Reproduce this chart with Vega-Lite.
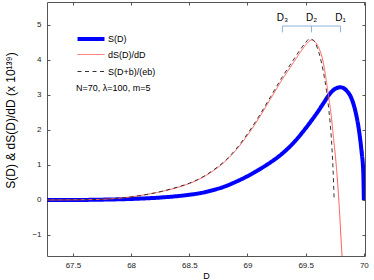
{
  "$schema": "https://vega.github.io/schema/vega-lite/v6.json",
  "width": 318,
  "height": 254,
  "autosize": {"type": "none"},
  "padding": {"left": 47, "top": 2, "right": 9, "bottom": 24},
  "background": "white",
  "config": {
    "view": {"stroke": null},
    "font": "Liberation Sans",
    "axis": {
      "domainColor": "#555555",
      "tickColor": "#555555",
      "tickSize": -3,
      "labelFontSize": 8,
      "labelColor": "#222222",
      "labelFont": "Liberation Sans",
      "titleFont": "Liberation Sans",
      "titleFontWeight": "normal",
      "titleColor": "#000000",
      "grid": false
    },
    "legend": {"orient": "none", "legendX": 35, "legendY": 28, "title": null, "labelFontSize": 9, "labelFont": "Liberation Sans", "symbolType": "M-2,0H2", "symbolSize": 182, "labelOffset": 8, "padding": 0, "rowPadding": -1, "gridAlign": "all"}
  },
  "datasets": {
    "curves": [
      {"series": "S(D)", "D": 67.277, "v": 0.0},
      {"series": "S(D)", "D": 67.5, "v": 0.0},
      {"series": "S(D)", "D": 67.75, "v": 0.01},
      {"series": "S(D)", "D": 68.0, "v": 0.03},
      {"series": "S(D)", "D": 68.25, "v": 0.07},
      {"series": "S(D)", "D": 68.5, "v": 0.15},
      {"series": "S(D)", "D": 68.6, "v": 0.2},
      {"series": "S(D)", "D": 68.7, "v": 0.28},
      {"series": "S(D)", "D": 68.8, "v": 0.38},
      {"series": "S(D)", "D": 68.9, "v": 0.52},
      {"series": "S(D)", "D": 69.0, "v": 0.68},
      {"series": "S(D)", "D": 69.1, "v": 0.87},
      {"series": "S(D)", "D": 69.2, "v": 1.08},
      {"series": "S(D)", "D": 69.3, "v": 1.33},
      {"series": "S(D)", "D": 69.4, "v": 1.65},
      {"series": "S(D)", "D": 69.5, "v": 2.05},
      {"series": "S(D)", "D": 69.55, "v": 2.27},
      {"series": "S(D)", "D": 69.6, "v": 2.5},
      {"series": "S(D)", "D": 69.65, "v": 2.75},
      {"series": "S(D)", "D": 69.7, "v": 3.0},
      {"series": "S(D)", "D": 69.75, "v": 3.17},
      {"series": "S(D)", "D": 69.8, "v": 3.22},
      {"series": "S(D)", "D": 69.85, "v": 3.13},
      {"series": "S(D)", "D": 69.9, "v": 2.85},
      {"series": "S(D)", "D": 69.93, "v": 2.5},
      {"series": "S(D)", "D": 69.96, "v": 1.95},
      {"series": "S(D)", "D": 69.98, "v": 1.4},
      {"series": "S(D)", "D": 69.995, "v": 0.8},
      {"series": "S(D)", "D": 70.0, "v": 0.0},
      {"series": "dS(D)/dD", "D": 67.277, "v": 0.0},
      {"series": "dS(D)/dD", "D": 67.5, "v": 0.005},
      {"series": "dS(D)/dD", "D": 67.75, "v": 0.02},
      {"series": "dS(D)/dD", "D": 68.0, "v": 0.09},
      {"series": "dS(D)/dD", "D": 68.2, "v": 0.2},
      {"series": "dS(D)/dD", "D": 68.4, "v": 0.36},
      {"series": "dS(D)/dD", "D": 68.5, "v": 0.47},
      {"series": "dS(D)/dD", "D": 68.6, "v": 0.62},
      {"series": "dS(D)/dD", "D": 68.7, "v": 0.82},
      {"series": "dS(D)/dD", "D": 68.8, "v": 1.08},
      {"series": "dS(D)/dD", "D": 68.9, "v": 1.42},
      {"series": "dS(D)/dD", "D": 69.0, "v": 1.85},
      {"series": "dS(D)/dD", "D": 69.1, "v": 2.35},
      {"series": "dS(D)/dD", "D": 69.2, "v": 2.9},
      {"series": "dS(D)/dD", "D": 69.3, "v": 3.45},
      {"series": "dS(D)/dD", "D": 69.4, "v": 3.95},
      {"series": "dS(D)/dD", "D": 69.45, "v": 4.2},
      {"series": "dS(D)/dD", "D": 69.5, "v": 4.43},
      {"series": "dS(D)/dD", "D": 69.53, "v": 4.54},
      {"series": "dS(D)/dD", "D": 69.55, "v": 4.57},
      {"series": "dS(D)/dD", "D": 69.57, "v": 4.55},
      {"series": "dS(D)/dD", "D": 69.6, "v": 4.43},
      {"series": "dS(D)/dD", "D": 69.63, "v": 4.2},
      {"series": "dS(D)/dD", "D": 69.65, "v": 3.95},
      {"series": "dS(D)/dD", "D": 69.68, "v": 3.35},
      {"series": "dS(D)/dD", "D": 69.7, "v": 2.9},
      {"series": "dS(D)/dD", "D": 69.72, "v": 2.4},
      {"series": "dS(D)/dD", "D": 69.74, "v": 1.75},
      {"series": "dS(D)/dD", "D": 69.76, "v": 1.1},
      {"series": "dS(D)/dD", "D": 69.785, "v": 0.0},
      {"series": "dS(D)/dD", "D": 69.81, "v": -1.45},
      {"series": "dS(D)/dD", "D": 69.83, "v": -2.4},
      {"series": "S(D+b)/(eb)", "D": 67.277, "v": 0.0},
      {"series": "S(D+b)/(eb)", "D": 67.5, "v": 0.005},
      {"series": "S(D+b)/(eb)", "D": 67.75, "v": 0.02},
      {"series": "S(D+b)/(eb)", "D": 68.0, "v": 0.09},
      {"series": "S(D+b)/(eb)", "D": 68.2, "v": 0.2},
      {"series": "S(D+b)/(eb)", "D": 68.4, "v": 0.37},
      {"series": "S(D+b)/(eb)", "D": 68.5, "v": 0.48},
      {"series": "S(D+b)/(eb)", "D": 68.6, "v": 0.63},
      {"series": "S(D+b)/(eb)", "D": 68.7, "v": 0.84},
      {"series": "S(D+b)/(eb)", "D": 68.8, "v": 1.1},
      {"series": "S(D+b)/(eb)", "D": 68.9, "v": 1.45},
      {"series": "S(D+b)/(eb)", "D": 69.0, "v": 1.89},
      {"series": "S(D+b)/(eb)", "D": 69.1, "v": 2.4},
      {"series": "S(D+b)/(eb)", "D": 69.2, "v": 2.96},
      {"series": "S(D+b)/(eb)", "D": 69.3, "v": 3.52},
      {"series": "S(D+b)/(eb)", "D": 69.4, "v": 4.03},
      {"series": "S(D+b)/(eb)", "D": 69.45, "v": 4.28},
      {"series": "S(D+b)/(eb)", "D": 69.5, "v": 4.5},
      {"series": "S(D+b)/(eb)", "D": 69.53, "v": 4.6},
      {"series": "S(D+b)/(eb)", "D": 69.56, "v": 4.58},
      {"series": "S(D+b)/(eb)", "D": 69.6, "v": 4.35},
      {"series": "S(D+b)/(eb)", "D": 69.65, "v": 3.7},
      {"series": "S(D+b)/(eb)", "D": 69.68, "v": 3.1},
      {"series": "S(D+b)/(eb)", "D": 69.7, "v": 2.55},
      {"series": "S(D+b)/(eb)", "D": 69.72, "v": 1.8},
      {"series": "S(D+b)/(eb)", "D": 69.735, "v": 0.9},
      {"series": "S(D+b)/(eb)", "D": 69.745, "v": 0.0}
    ],
    "marks": [
      {"name": "D₃", "D": 69.3},
      {"name": "D₂", "D": 69.55},
      {"name": "D₁", "D": 69.8}
    ],
    "note": [
      {"label": "N=70, λ=100, m=5"}
    ]
  },
  "layer": [
    {
      "data": {"name": "curves"},
      "mark": {"type": "line", "clip": true, "interpolate": "monotone"},
      "encoding": {
        "x": {
          "field": "D", "type": "quantitative",
          "scale": {"domain": [67.277, 70.01], "nice": false, "zero": false},
          "axis": {"values": [67.5, 68, 68.5, 69, 69.5, 70], "format": "~g", "title": "D", "titleFontSize": 9, "labelPadding": 8, "titlePadding": 2}
        },
        "y": {
          "field": "v", "type": "quantitative",
          "scale": {"domain": [-1.6, 5.657], "nice": false, "zero": false},
          "axis": {"values": [-1, 0, 1, 2, 3, 4, 5], "title": "S(D) & dS(D)/dD (x 10¹³⁹)", "titleFontSize": 12, "titleY": 118, "labelPadding": 9, "titlePadding": 14}
        },
        "color": {
          "field": "series", "type": "nominal",
          "scale": {"domain": ["S(D)", "dS(D)/dD", "S(D+b)/(eb)"], "range": ["#0000ff", "#ff5c5c", "#333333"]}
        },
        "strokeDash": {
          "field": "series", "type": "nominal",
          "scale": {"domain": ["S(D)", "dS(D)/dD", "S(D+b)/(eb)"], "range": [[1, 0], [1, 0], [4, 3.5]]}
        },
        "strokeWidth": {
          "field": "series", "type": "nominal",
          "scale": {"type": "ordinal", "domain": ["S(D)", "dS(D)/dD", "S(D+b)/(eb)"], "range": [4, 1, 1]}
        }
      }
    },
    {
      "data": {"name": "marks"},
      "mark": {"type": "rule", "color": "#8db1de", "strokeWidth": 1},
      "encoding": {
        "x": {"aggregate": "min", "field": "D", "type": "quantitative", "axis": {"orient": "top", "labels": false, "title": null, "values": [67.5, 68, 68.5, 69, 69.5, 70]}},
        "x2": {"aggregate": "max", "field": "D"},
        "y": {"datum": 4.97, "type": "quantitative", "axis": {"orient": "right", "labels": false, "title": null, "values": [-1, 0, 1, 2, 3, 4, 5]}}
      }
    },
    {
      "data": {"name": "marks"},
      "mark": {"type": "rule", "color": "#8db1de", "strokeWidth": 1},
      "encoding": {
        "x": {"field": "D", "type": "quantitative", "axis": null},
        "y": {"datum": 4.97, "type": "quantitative", "axis": null},
        "y2": {"datum": 4.79}
      }
    },
    {
      "data": {"name": "marks"},
      "mark": {"type": "text", "fontSize": 10, "baseline": "alphabetic", "align": "center", "color": "#000000"},
      "encoding": {
        "x": {"field": "D", "type": "quantitative", "axis": null},
        "y": {"datum": 5.1, "type": "quantitative", "axis": null},
        "text": {"field": "name"}
      }
    },
    {
      "data": {"name": "note"},
      "mark": {"type": "text", "fontSize": 9, "baseline": "middle", "align": "left", "color": "#000000"},
      "encoding": {
        "x": {"datum": 67.527, "type": "quantitative", "axis": null},
        "y": {"datum": 3.2, "type": "quantitative", "axis": null},
        "text": {"field": "label"}
      }
    }
  ],
  "resolve": {"axis": {"x": "independent", "y": "independent"}}
}
